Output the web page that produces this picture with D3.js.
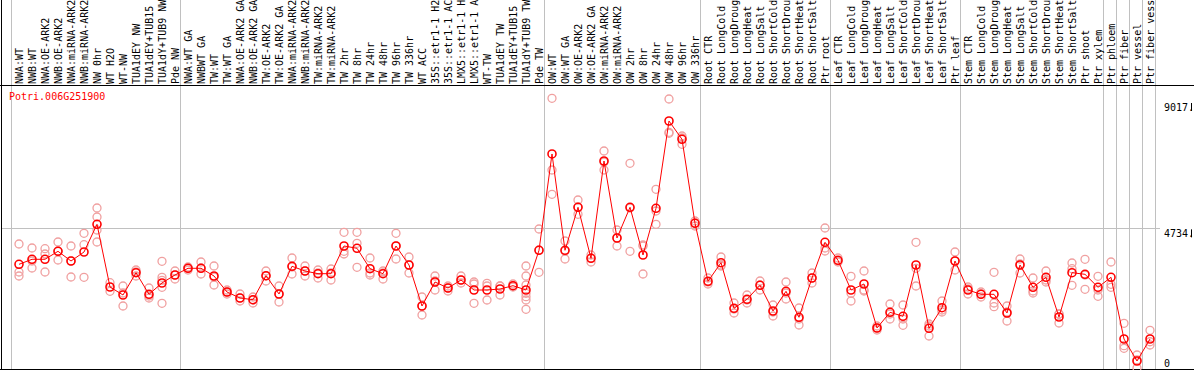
<!DOCTYPE html>
<html>
<head>
<meta charset="utf-8">
<script src="https://cdn.jsdelivr.net/npm/d3@7"></script>
<style>
  body { margin: 0; background: #fff; }
  text { font-family: "DejaVu Sans Mono", monospace; font-size: 10px; }
</style>
</head>
<body>
<svg id="chart" width="1194" height="370"></svg>
<script>
// -------------------- DATA -------------------- //
let geneName = "Potri.006G251900";

let samples = [
  "NWA:WT", "NWB:WT", "NWA:OE-ARK2", "NWB:OE-ARK2", "NWA:miRNA-ARK2", "NWB:miRNA-ARK2",
  "NW 0hr", "WT H2O", "WT-NW", "TUA1dEY NW", "TUA1dEY+TUB15 NW", "TUA1dY+TUB9 NW", "Pde NW",
  "NWA:WT GA", "NWBWT GA", "TW:WT", "TW:WT GA", "NWA:OE-ARK2 GA", "NWB:OE-ARK2 GA",
  "TW:OE-ARK2", "TW:OE-ARK2 GA", "NWA:miRNA-ARK2", "NWB:miRNA-ARK2", "TW:miRNA-ARK2",
  "TW:miRNA-ARK2", "TW 2hr", "TW 8hr", "TW 24hr", "TW 48hr", "TW 96hr", "TW 336hr", "WT ACC",
  "35S::etr1-1 H2O", "35S::etr1-1 ACC", "LMX5::etr1-1 H2O", "LMX5::etr1-1 ACC", "WT-TW",
  "TUA1dEY TW", "TUA1dEY+TUB15 TW", "TUA1dY+TUB9 TW", "Pde TW",
  "OW:WT", "OW:WT GA", "OW:OE-ARK2", "OW:OE-ARK2 GA", "OW:miRNA-ARK2", "OW:miRNA-ARK2",
  "OW 2hr", "OW 8hr", "OW 24hr", "OW 48hr", "OW 96hr", "OW 336hr",
  "Root CTR", "Root LongCold", "Root LongDrought", "Root LongHeat", "Root LongSalt",
  "Root ShortCold", "Root ShortDrought", "Root ShortHeat", "Root ShortSalt", "Ptr root",
  "Leaf CTR", "Leaf LongCold", "Leaf LongDrought", "Leaf LongHeat", "Leaf LongSalt",
  "Leaf ShortCold", "Leaf ShortDrought", "Leaf ShortHeat", "Leaf ShortSalt", "Ptr leaf",
  "Stem CTR", "Stem LongCold", "Stem LongDrought", "Stem LongHeat", "Stem LongSalt",
  "Stem ShortCold", "Stem ShortDrought", "Stem ShortHeat", "Stem ShortSalt", "Ptr shoot", "Ptr xylem",
  "Ptr phloem", "Ptr fiber", "Ptr vessel", "Ptr fiber vessel"
];

// index of first sample of each block (separator lines)
let groupStarts = [0, 13, 41, 53, 63, 73, 84, 85, 86, 87, 88];

let meanValues = [
  3515, 3685, 3685, 3956, 3627, 3932, 4871, 2746, 2475, 3231, 2498, 2882, 3153,
  3380, 3380, 3119, 2576, 2373, 2315, 3129, 2509, 3448, 3288, 3197, 3197, 4136, 4058,
  3366, 3197, 4136, 3492, 2102, 2915, 2712, 2983, 2644, 2644, 2678, 2790, 2644, 3990,
  7255, 3990, 5448, 3719, 7017, 4407, 5448, 3831, 5414, 8373, 7753, 4905,
  2939, 3570, 2024, 2329, 2804, 1932, 2600, 1719, 3051, 4261,
  3651, 2644, 2848, 1356, 1888, 1753, 3492, 1346, 2044, 3627,
  2644, 2498, 2498, 1865, 3492, 2736, 3075, 1729, 3231, 3176, 2736,
  3075, 983, 237, 983
];

let replicateValues = [
  [4204, 3254, 3119], [4068, 3627, 3390], [4044, 3865, 3254], [4271, 3966, 3661],
  [4136, 3627, 3085], [4566, 4180, 3075], [5424, 5119, 4678, 4271], [2892, 2600],
  [2780, 2543, 2102], [3322, 3254, 3119], [2712, 2441, 2373],
  [3617, 3075, 2973, 2736, 2193], [3288, 3153, 3017],
  [3424, 3390, 3322], [3593, 3390, 3187], [3458, 3085, 2814], [2644, 2576, 2509],
  [2509, 2373, 2271], [2407, 2305, 2204], [3288, 3119, 2949], [2780, 2509, 2237],
  [3729, 3424, 3187], [3458, 3288, 3119], [3322, 3221, 3051], [3356, 3221, 2983],
  [4600, 3956, 3865], [4600, 4227, 3414], [3729, 3221, 3153], [3288, 3221, 3017],
  [4566, 4136, 3695], [3763, 3492, 3221], [2407, 2102, 1797], [3119, 2949, 2644],
  [2780, 2712, 2610], [3119, 2983, 2882], [2915, 2848, 2193], [2871, 2780, 2305],
  [2780, 2780, 2475], [2848, 2780, 2746],
  [3458, 3119, 2814, 2532, 2417, 2305, 1990], [4712, 4000, 3244],
  [9143, 6712, 5888], [4305, 3966, 3695], [5695, 5458, 5210], [3831, 3729, 3593],
  [7356, 6983, 6712], [4678, 4407, 4136], [6939, 5424, 3956], [4170, 4136, 3187],
  [6058, 5322, 4871], [9119, 7990, 7956], [7865, 7797, 7583], [4983, 4916, 4814],
  [3051, 2915, 2848], [3763, 3492, 3458], [2204, 2000, 1865], [2475, 2305, 2204],
  [2949, 2814, 2644], [2136, 1898, 1763], [2915, 2543, 2339], [2034, 1661, 1458],
  [3221, 3051, 2882], [4746, 4068, 3966],
  [3729, 3627, 3593], [3109, 2532, 2271], [3288, 2644, 2610], [1424, 1356, 1288],
  [2170, 1831, 1661], [2136, 1661, 1448], [4261, 3380, 2780], [1492, 1424, 1085],
  [2271, 1966, 1898], [3932, 3627, 3322],
  [2746, 2678, 2509], [2576, 2509, 2407], [3244, 2204, 2078], [2102, 1898, 1593],
  [3695, 3526, 3221], [3051, 2610, 2543], [3288, 2983, 2915], [1831, 1831, 1526],
  [3560, 3366, 2804], [3685, 3153, 2668], [3109, 2644, 2431],
  [3593, 2837, 2736], [1515, 756, 668], [441, 271, 0], [1278, 890, 780]
];

let yTicks = [0, 4734, 9017];
let yTickLabels = ["0", "4734.", "9017."];

// -------------------- SCALES -------------------- //
let svg = d3.select("#chart");
let W = 1194, H = 370;
let plotTop = 85, plotBottom = 369;
let maxChars = 14; // label header only has room for this many characters

let x = d3.scaleBand().domain(d3.range(samples.length)).range([12.5, 1156.5]);
let y = d3.scaleLinear().domain([0, 9017]).range([368, 102]);
let cx = i => x(i) + x.bandwidth() / 2;

// -------------------- GRID + FRAME -------------------- //
svg.selectAll(".hgrid")
  .data(yTicks.filter(d => d > 0 && d < 9017))
  .enter().append("line")
    .attr("x1", 1).attr("x2", 1160)
    .attr("y1", d => Math.round(y(d)) + 0.5)
    .attr("y2", d => Math.round(y(d)) + 0.5)
    .attr("stroke", "#c0c0c0");

svg.selectAll(".vgrid")
  .data(groupStarts)
  .enter().append("line")
    .attr("x1", d => x.step() * d + 12.5 - 1.5 + 0.5)
    .attr("x2", d => x.step() * d + 12.5 - 1.5 + 0.5)
    .attr("y1", 0).attr("y2", plotBottom)
    .attr("stroke", "#c0c0c0");

// frame
svg.append("line").attr("x1", 0).attr("x2", W).attr("y1", plotTop + 0.5).attr("y2", plotTop + 0.5).attr("stroke", "#000");
svg.append("line").attr("x1", 0).attr("x2", W).attr("y1", plotBottom + 0.5).attr("y2", plotBottom + 0.5).attr("stroke", "#000");
svg.append("line").attr("x1", 1.5).attr("x2", 1.5).attr("y1", 0).attr("y2", plotBottom).attr("stroke", "#000");

// -------------------- SAMPLE LABELS -------------------- //
svg.append("g")
  .selectAll("text")
  .data(samples)
  .enter().append("text")
    .attr("transform", (d, i) => `translate(${cx(i) + 4},84) rotate(-90)`)
    .attr("fill", "#000")
    .text(d => d.slice(0, maxChars).trim());

// -------------------- Y AXIS LABELS -------------------- //
svg.selectAll(".ylab")
  .data(yTicks)
  .enter().append("text")
    .attr("x", 1164)
    .attr("y", d => Math.min(y(d) + 1, 359) + 7.5)
    .attr("fill", "#000")
    .text((d, i) => yTickLabels[i]);

svg.selectAll(".ytick")
  .data(yTicks.filter(d => d > 0))
  .enter().append("line")
    .attr("x1", 1191.5).attr("x2", 1191.5)
    .attr("y1", d => y(d) + 1).attr("y2", d => y(d) + 9)
    .attr("stroke", "#000");

// -------------------- POINTS -------------------- //
let plot = svg.append("g");
let reps = [];
replicateValues.forEach((arr, i) => arr.forEach(v => reps.push({i: i, v: v})));

plot.selectAll(".rep")
  .data(reps)
  .enter().append("circle")
    .attr("cx", d => cx(d.i))
    .attr("cy", d => y(d.v))
    .attr("r", 4)
    .attr("fill", "none")
    .attr("stroke", "#f0a0a0")
    .attr("stroke-width", 1.3);

let line = d3.line().x((d, i) => cx(i)).y(d => y(d));
plot.append("path")
  .attr("d", line(meanValues))
  .attr("fill", "none")
  .attr("stroke", "#ff0000")
  .attr("stroke-width", 1);

plot.selectAll(".mean")
  .data(meanValues)
  .enter().append("circle")
    .attr("cx", (d, i) => cx(i))
    .attr("cy", d => y(d))
    .attr("r", 4)
    .attr("fill", "none")
    .attr("stroke", "#ff0000")
    .attr("stroke-width", 1.6);

// -------------------- TITLE -------------------- //
svg.append("text")
  .attr("x", 9)
  .attr("y", 100)
  .attr("fill", "#ff0000")
  .text(geneName);
</script>
</body>
</html>
